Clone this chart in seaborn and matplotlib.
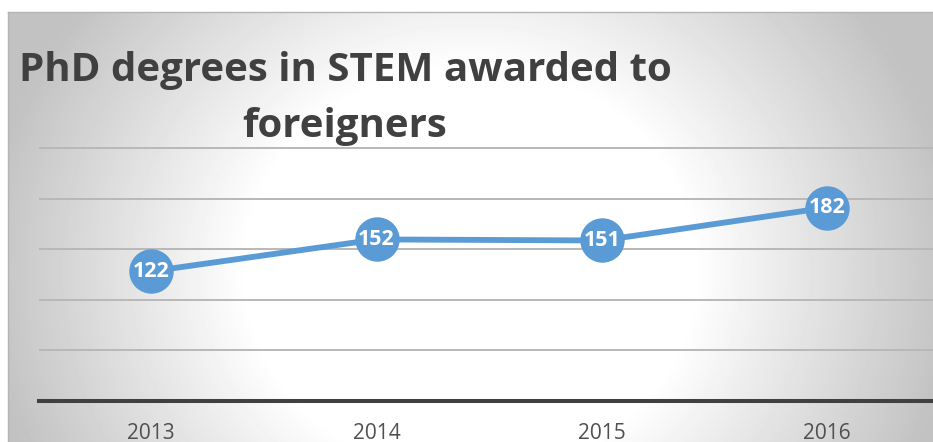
import numpy as np
import pandas as pd
import seaborn as sns
import matplotlib.pyplot as plt

# Datos
years = ["2013", "2014", "2015", "2016"]
phd_foreigners = [122, 152, 151, 182]
title_lines = ["PhD degrees in STEM awarded to", "foreigners"]
grid_step = 47.6

sns.set_theme(style="white")
plt.rcParams["font.family"] = ["Open Sans", "DejaVu Sans"]

W, H = 933, 442
fig = plt.figure(figsize=(W / 100, H / 100), dpi=100)
fig.patch.set_facecolor("white")

# Fondo con degradado radial (estilo Excel)
bg = fig.add_axes([8 / W, 0, (W - 8) / W, (H - 12) / H])
rows, cols = H - 12, W - 8
yy, xx = np.mgrid[0:rows, 0:cols]
cx, cy = 470 - 8, 270 - 12
d = np.sqrt(((xx - cx) / 465.0) ** 2 + ((yy - cy) / 420.0) ** 2)
d0 = 0.48
shade = 1.0 - 0.22 * np.clip((d - d0) / (1 - d0), 0, 1.1)
bg.imshow(shade, cmap="gray", vmin=0, vmax=1, aspect="auto", interpolation="bilinear")
bg.set_xticks([])
bg.set_yticks([])
for side in ["right", "bottom"]:
    bg.spines[side].set_visible(False)
for side in ["top", "left"]:
    bg.spines[side].set_color("#b4b4b4")
    bg.spines[side].set_linewidth(1.0)

# Grafico de linea
ax = fig.add_axes([38.5 / W, 41 / H, (940 - 38.5) / W, 250 * 1.063 / H])
ax.patch.set_alpha(0)
df = pd.DataFrame({"year": years, "value": phd_foreigners})
sns.lineplot(data=df, x="year", y="value", ax=ax, color="#5b9bd5", linewidth=4.2,
             marker="o", markersize=32, markeredgewidth=0, clip_on=False, zorder=3)

for i, v in enumerate(phd_foreigners):
    ax.text(i, v, str(v), ha="center", va="center", color="white",
            fontsize=15.5, fontweight="bold", zorder=4)

ax.set_xlim(-0.5, 3.5)
ax.set_ylim(0, 250)
ax.set_yticks(np.arange(grid_step, 250, grid_step))
ax.set_yticklabels([])
ax.yaxis.grid(True, color="#b8b8b8", linewidth=1.4)
ax.set_axisbelow(True)
ax.set_xlabel("")
ax.set_ylabel("")
ax.tick_params(axis="x", length=0, pad=16, labelsize=15, labelcolor="#505050")
ax.tick_params(axis="y", length=0)
for side in ["top", "right", "left"]:
    ax.spines[side].set_visible(False)
ax.spines["bottom"].set_color("#404040")
ax.spines["bottom"].set_linewidth(2.9)

# Titulo
fig.text(345 / W, (H - 81) / H, title_lines[0], ha="center", va="baseline",
         fontsize=29, fontweight="bold", color="#404040")
fig.text(345 / W, (H - 137) / H, title_lines[1], ha="center", va="baseline",
         fontsize=29, fontweight="bold", color="#404040")

fig.savefig("out.png", dpi=100)
